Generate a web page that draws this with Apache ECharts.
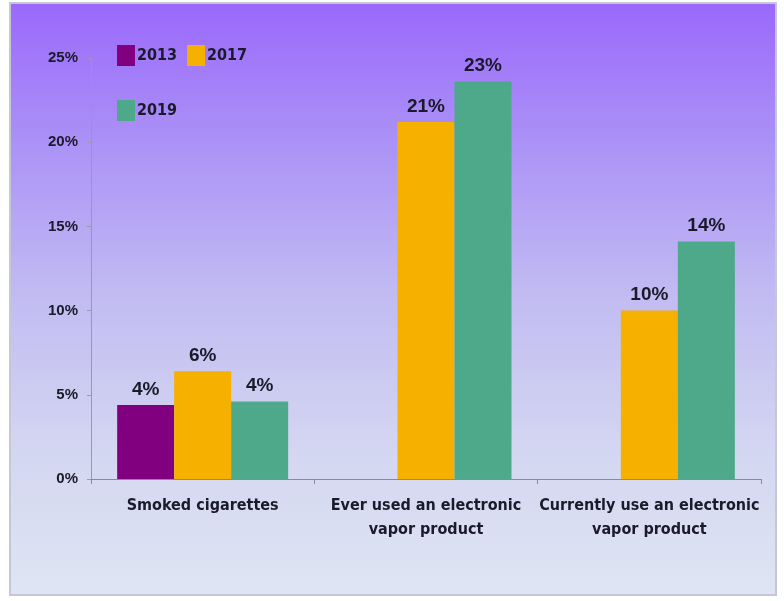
<!DOCTYPE html>
<html><head><meta charset="utf-8">
<script src="https://cdn.jsdelivr.net/npm/echarts@6/dist/echarts.min.js"></script>
<style>html,body{margin:0;padding:0;background:#fff}#c{width:784px;height:601px}</style>
</head><body><div id="c"></div>
<script>
const categories = ['Smoked cigarettes', 'Ever used an electronic\nvapor product', 'Currently use an electronic\nvapor product'];
const seriesNames = ['2013', '2017', '2019'];
const values2013 = [4.4, null, null];
const values2017 = [6.4, 21.2, 10.0];
const values2019 = [4.6, 23.6, 14.1];
const labels2013 = ['4%', '', ''];
const labels2017 = ['6%', '21%', '10%'];
const labels2019 = ['4%', '23%', '14%'];
const yTicks = [0, 5, 10, 15, 20, 25];

const colors = ['#800080', '#f5b000', '#4ea88a'];
const condensed = '"DejaVu Sans Condensed", "Liberation Sans", sans-serif';
const regular = '"Liberation Sans", Arial, sans-serif';

function mk(name, data, labels, color) {
  return {
    name: name, type: 'bar', data: data, barWidth: 57, barGap: '0%',
    itemStyle: { color: color },
    label: {
      show: true, position: 'top', distance: 6,
      fontFamily: regular, fontWeight: 'bold', fontSize: 19, color: '#1a1a2a',
      formatter: p => labels[p.dataIndex]
    }
  };
}

const chart = echarts.init(document.getElementById('c'), null, { renderer: 'canvas' });
chart.setOption({
  animation: false,
  graphic: [{
    type: 'rect', z: -10, silent: true,
    shape: { x: 10, y: 3, width: 766, height: 592 },
    style: {
      fill: new echarts.graphic.LinearGradient(0, 0, 0, 1, [
        { offset: 0, color: '#9a68fb' },
        { offset: 0.25, color: '#ac94f6' },
        { offset: 0.5, color: '#c2bcf2' },
        { offset: 0.75, color: '#d3d6f1' },
        { offset: 1, color: '#dfe5f3' }
      ]),
      stroke: '#c4c8d4', lineWidth: 2
    }
  }],
  legend: [{
    data: ['2013', '2017'], left: 117, top: 45, padding: 0, itemWidth: 18, itemHeight: 21, itemGap: 10,
    icon: 'rect',
    textStyle: { fontFamily: condensed, fontWeight: 'bold', fontSize: 16, color: '#1a1a2a', padding: [0, 0, 0, -3] }
  }, {
    data: ['2019'], left: 117, top: 100, padding: 0, itemWidth: 18, itemHeight: 21,
    icon: 'rect',
    textStyle: { fontFamily: condensed, fontWeight: 'bold', fontSize: 16, color: '#1a1a2a', padding: [0, 0, 0, -3] }
  }],
  grid: { left: 91, right: 23, top: 58, bottom: 122 },
  xAxis: {
    type: 'category', data: categories,
    axisLine: { lineStyle: { color: '#8a8a96', width: 1 } },
    axisTick: { show: true, length: 5, lineStyle: { color: '#8a8a96' } },
    axisLabel: {
      fontFamily: condensed, fontWeight: 'bold', fontSize: 16, color: '#1a1a2a',
      lineHeight: 24, margin: 15, interval: 0
    }
  },
  yAxis: {
    type: 'value', min: 0, max: 25, interval: 5,
    axisLine: { show: true, lineStyle: { color: '#9a9aa6', width: 1 } },
    axisTick: { show: true, length: 4, lineStyle: { color: '#9a9aa6' } },
    splitLine: { show: false },
    axisLabel: {
      fontFamily: regular, fontWeight: 'bold', fontSize: 15, color: '#1a1a2a',
      margin: 13, formatter: v => yTicks.includes(v) ? v + '%' : ''
    }
  },
  series: [
    mk(seriesNames[0], values2013, labels2013, colors[0]),
    mk(seriesNames[1], values2017, labels2017, colors[1]),
    mk(seriesNames[2], values2019, labels2019, colors[2])
  ]
});
</script></body></html>
